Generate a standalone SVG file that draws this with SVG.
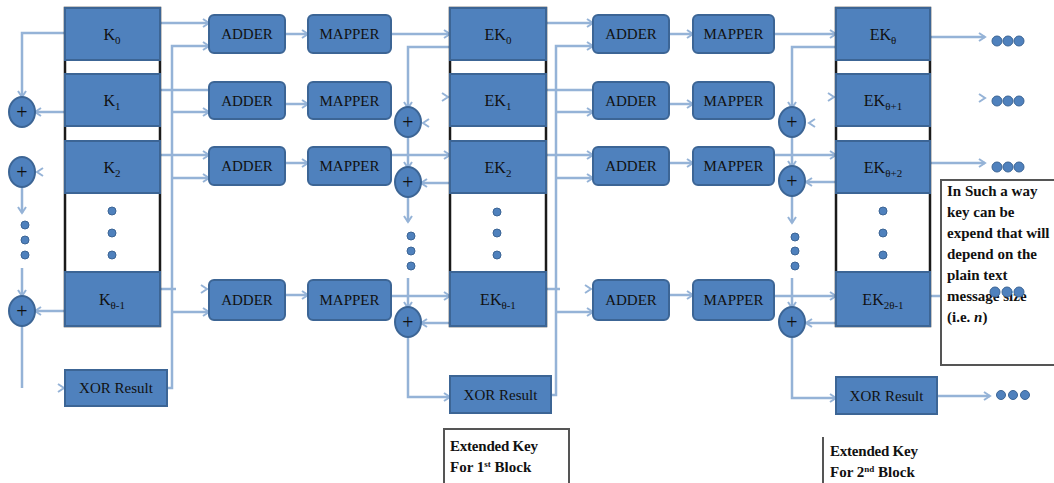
<svg xmlns="http://www.w3.org/2000/svg" width="1054" height="483" viewBox="0 0 1054 483">
<defs>
<marker id="ar" markerUnits="userSpaceOnUse" markerWidth="10" markerHeight="10" refX="8" refY="5" orient="auto">
<path d="M2,1 L8,5 L2,9" fill="none" stroke="#95b3d7" stroke-width="2"/>
</marker>
<style>
.c{fill:none;stroke:#95b3d7;stroke-width:2.5}
.a{marker-end:url(#ar)}
.ch{fill:none;stroke:#95b3d7;stroke-width:2}
.box{fill:#4f81bd;stroke:#3c6595;stroke-width:2}
.col{fill:#fff;stroke:#1a1a1a;stroke-width:2.5}
.t{font-family:"Liberation Serif","Times New Roman",serif;font-size:15px;fill:#111;text-anchor:middle}
.k{font-family:"Liberation Serif","Times New Roman",serif;font-size:16px;fill:#111;text-anchor:middle}
.pl{font-family:"Liberation Serif","Times New Roman",serif;font-size:20px;fill:#111;text-anchor:middle}
.s{font-size:11px}
.dot{fill:#4f81bd;stroke:#3c6595;stroke-width:1}
.note{font-family:"Liberation Serif","Times New Roman",serif;font-size:15px;font-weight:bold;fill:#111}
.frame{fill:#fff;stroke:#555;stroke-width:2}
</style>
</defs>

<g id="connectors">
<path class="c a" d="M160,23 H209"/>
<path class="c" d="M160,90 H209"/>
<path class="c a" d="M160,155 H209"/>
<path class="c" d="M160,289 H176"/>
<polyline class="ch" points="201,285 207,289 201,293"/>
<path class="c a" d="M167,388 H172 V46 H209"/>
<path class="c a" d="M172,112 H209"/>
<path class="c a" d="M172,178 H209"/>
<path class="c a" d="M172,312 H209"/>
<path class="c a" d="M285,34 H308"/>
<path class="c a" d="M285,104 H308"/>
<path class="c a" d="M285,163 H308"/>
<path class="c a" d="M285,295 H308"/>
<path class="c a" d="M65,33 H22 V97"/>
<path class="c a" d="M65,112 H35"/>
<polyline class="ch" points="43,168 37,172 43,176"/>
<path class="c a" d="M22,187 V213"/>
<path class="c a" d="M22,268 V296"/>
<path class="c a" d="M65,311 H35"/>
<path class="c" d="M22,326 V388"/>
<polyline class="ch" points="58,384 64,388 58,392"/>
<path class="c a" d="M391,34 H450"/>
<polyline class="ch" points="442,93 448,97 442,101"/>
<path class="c a" d="M391,155 H450"/>
<path class="c a" d="M391,296 H450"/>
<path class="c a" d="M450,47 H408 V108"/>
<polyline class="ch" points="429,119 423,123 429,127"/>
<path class="c a" d="M408,137 V168"/>
<path class="c a" d="M450,183 H421"/>
<path class="c a" d="M408,197 V222"/>
<path class="c a" d="M408,278 V308"/>
<path class="c a" d="M450,323 H421"/>
<path class="c a" d="M408,337 V397 H450"/>
<path class="c a" d="M546,23 H593"/>
<path class="c" d="M546,90 H593"/>
<path class="c a" d="M546,155 H593"/>
<path class="c" d="M546,289 H560"/>
<polyline class="ch" points="585,285 591,289 585,293"/>
<path class="c a" d="M551,395 H556 V46 H593"/>
<path class="c a" d="M556,112 H593"/>
<path class="c a" d="M556,178 H593"/>
<path class="c a" d="M556,312 H593"/>
<path class="c a" d="M669,34 H693"/>
<path class="c a" d="M669,104 H693"/>
<path class="c a" d="M669,163 H693"/>
<path class="c a" d="M669,295 H693"/>
<path class="c a" d="M774,34 H836"/>
<polyline class="ch" points="828,93 834,97 828,101"/>
<path class="c a" d="M774,155 H836"/>
<path class="c a" d="M774,296 H836"/>
<path class="c a" d="M836,47 H792 V108"/>
<polyline class="ch" points="815,119 809,123 815,127"/>
<path class="c a" d="M792,137 V167"/>
<path class="c a" d="M836,182 H806"/>
<path class="c a" d="M792,196 V223"/>
<path class="c a" d="M792,278 V308"/>
<path class="c a" d="M836,323 H806"/>
<path class="c a" d="M792,338 V398 H836"/>
<path class="c a" d="M930,37 H985"/>
<polyline class="ch" points="979,94 985,98 979,102"/>
<path class="c a" d="M930,163 H985"/>
<path class="c a" d="M930,296 H985"/>
<path class="c a" d="M937,396 H990"/>
</g>

<g id="text-note">
<rect class="frame" x="941" y="180" width="120" height="185"/>
<text class="note" x="947" y="196">In Such a way</text>
<text class="note" x="947" y="217">key can be</text>
<text class="note" x="947" y="238">expend that will</text>
<text class="note" x="947" y="259">depend on the</text>
<text class="note" x="947" y="280">plain text</text>
<text class="note" x="947" y="301">message size</text>
<text class="note" x="947" y="322">(i.e. <tspan font-style="italic">n</tspan>)</text>
</g>

<g id="out-dots">
<circle class="dot" cx="997" cy="41" r="5"/><circle class="dot" cx="1008" cy="41" r="5"/><circle class="dot" cx="1019" cy="41" r="5"/>
<circle class="dot" cx="997" cy="101" r="5"/><circle class="dot" cx="1008" cy="101" r="5"/><circle class="dot" cx="1019" cy="101" r="5"/>
<circle class="dot" cx="997" cy="167" r="5"/><circle class="dot" cx="1008" cy="167" r="5"/><circle class="dot" cx="1019" cy="167" r="5"/>
<circle class="dot" cx="995" cy="292" r="5"/><circle class="dot" cx="1007" cy="292" r="5"/><circle class="dot" cx="1019" cy="292" r="5"/>
<circle class="dot" cx="1001" cy="395" r="4.5"/><circle class="dot" cx="1013" cy="395" r="4.5"/><circle class="dot" cx="1025" cy="395" r="4.5"/>
</g>

<g id="key-column-1">
<rect class="col" x="65" y="8" width="95" height="318"/>
<rect class="box" x="65" y="8" width="95" height="52"/>
<text class="k" x="112" y="40">K<tspan class="s" dy="4">0</tspan></text>
<rect class="box" x="65" y="74" width="95" height="52"/>
<text class="k" x="112" y="106">K<tspan class="s" dy="4">1</tspan></text>
<rect class="box" x="65" y="141" width="95" height="52"/>
<text class="k" x="112" y="173">K<tspan class="s" dy="4">2</tspan></text>
<circle class="dot" cx="112" cy="211" r="4"/><circle class="dot" cx="112" cy="233" r="4"/><circle class="dot" cx="112" cy="255" r="4"/>
<rect class="box" x="65" y="272" width="95" height="54"/>
<text class="k" x="112" y="305">K<tspan class="s" dy="4">θ-1</tspan></text>
</g>

<g id="xor-circles-1">
<ellipse class="box" cx="22" cy="112" rx="13" ry="15"/><text class="pl" x="22" y="119">+</text>
<ellipse class="box" cx="22" cy="172" rx="13" ry="15"/><text class="pl" x="22" y="179">+</text>
<circle class="dot" cx="25" cy="225" r="4"/><circle class="dot" cx="25" cy="240" r="4"/><circle class="dot" cx="25" cy="255" r="4"/>
<ellipse class="box" cx="22" cy="311" rx="13" ry="15"/><text class="pl" x="22" y="318">+</text>
</g>

<g id="xor-result-1">
<rect class="box" x="65" y="370" width="102" height="36"/>
<text class="t" x="116" y="393">XOR Result</text>
</g>

<g id="adders-1">
<rect class="box" x="209" y="15" width="76" height="38" rx="5"/><text class="t" x="247" y="39">ADDER</text>
<rect class="box" x="209" y="82" width="76" height="37" rx="5"/><text class="t" x="247" y="106">ADDER</text>
<rect class="box" x="209" y="147" width="76" height="38" rx="5"/><text class="t" x="247" y="171">ADDER</text>
<rect class="box" x="209" y="280" width="76" height="40" rx="5"/><text class="t" x="247" y="305">ADDER</text>
</g>

<g id="mappers-1">
<rect class="box" x="308" y="15" width="83" height="38" rx="5"/><text class="t" x="349.5" y="39">MAPPER</text>
<rect class="box" x="308" y="82" width="83" height="37" rx="5"/><text class="t" x="349.5" y="106">MAPPER</text>
<rect class="box" x="308" y="147" width="83" height="38" rx="5"/><text class="t" x="349.5" y="171">MAPPER</text>
<rect class="box" x="308" y="280" width="83" height="40" rx="5"/><text class="t" x="349.5" y="305">MAPPER</text>
</g>

<g id="key-column-2">
<rect class="col" x="450" y="8" width="96" height="318"/>
<rect class="box" x="450" y="8" width="96" height="52"/>
<text class="k" x="498" y="40">EK<tspan class="s" dy="4">0</tspan></text>
<rect class="box" x="450" y="74" width="96" height="52"/>
<text class="k" x="498" y="106">EK<tspan class="s" dy="4">1</tspan></text>
<rect class="box" x="450" y="141" width="96" height="52"/>
<text class="k" x="498" y="173">EK<tspan class="s" dy="4">2</tspan></text>
<circle class="dot" cx="497" cy="212" r="4"/><circle class="dot" cx="497" cy="233" r="4"/><circle class="dot" cx="497" cy="255" r="4"/>
<rect class="box" x="450" y="272" width="96" height="54"/>
<text class="k" x="498" y="305">EK<tspan class="s" dy="4">θ-1</tspan></text>
</g>

<g id="xor-circles-2">
<ellipse class="box" cx="408" cy="122" rx="13" ry="15"/><text class="pl" x="408" y="129">+</text>
<ellipse class="box" cx="408" cy="182" rx="13" ry="15"/><text class="pl" x="408" y="189">+</text>
<circle class="dot" cx="411" cy="236" r="4"/><circle class="dot" cx="411" cy="251" r="4"/><circle class="dot" cx="411" cy="266" r="4"/>
<ellipse class="box" cx="408" cy="322" rx="13" ry="15"/><text class="pl" x="408" y="329">+</text>
</g>

<g id="xor-result-2">
<rect class="box" x="450" y="376" width="101" height="37"/>
<text class="t" x="500.5" y="400">XOR Result</text>
</g>

<g id="adders-2">
<rect class="box" x="593" y="15" width="76" height="38" rx="5"/><text class="t" x="631" y="39">ADDER</text>
<rect class="box" x="593" y="82" width="76" height="37" rx="5"/><text class="t" x="631" y="106">ADDER</text>
<rect class="box" x="593" y="147" width="76" height="38" rx="5"/><text class="t" x="631" y="171">ADDER</text>
<rect class="box" x="593" y="280" width="76" height="40" rx="5"/><text class="t" x="631" y="305">ADDER</text>
</g>

<g id="mappers-2">
<rect class="box" x="693" y="15" width="81" height="38" rx="5"/><text class="t" x="733.5" y="39">MAPPER</text>
<rect class="box" x="693" y="82" width="81" height="37" rx="5"/><text class="t" x="733.5" y="106">MAPPER</text>
<rect class="box" x="693" y="147" width="81" height="38" rx="5"/><text class="t" x="733.5" y="171">MAPPER</text>
<rect class="box" x="693" y="280" width="81" height="40" rx="5"/><text class="t" x="733.5" y="305">MAPPER</text>
</g>

<g id="key-column-3">
<rect class="col" x="836" y="8" width="94" height="318"/>
<rect class="box" x="836" y="8" width="94" height="52"/>
<text class="k" x="883" y="40">EK<tspan class="s" dy="4">θ</tspan></text>
<rect class="box" x="836" y="74" width="94" height="52"/>
<text class="k" x="883" y="106">EK<tspan class="s" dy="4">θ+1</tspan></text>
<rect class="box" x="836" y="141" width="94" height="52"/>
<text class="k" x="883" y="173">EK<tspan class="s" dy="4">θ+2</tspan></text>
<circle class="dot" cx="883" cy="211" r="4"/><circle class="dot" cx="883" cy="233" r="4"/><circle class="dot" cx="883" cy="255" r="4"/>
<rect class="box" x="836" y="272" width="94" height="54"/>
<text class="k" x="883" y="305">EK<tspan class="s" dy="4">2θ-1</tspan></text>
</g>

<g id="xor-circles-3">
<ellipse class="box" cx="792" cy="122" rx="13" ry="15"/><text class="pl" x="792" y="129">+</text>
<ellipse class="box" cx="792" cy="181" rx="13" ry="15"/><text class="pl" x="792" y="188">+</text>
<circle class="dot" cx="795" cy="237" r="4"/><circle class="dot" cx="795" cy="251" r="4"/><circle class="dot" cx="795" cy="266" r="4"/>
<ellipse class="box" cx="792" cy="322" rx="13" ry="15"/><text class="pl" x="792" y="329">+</text>
</g>

<g id="xor-result-3">
<rect class="box" x="836" y="377" width="101" height="37"/>
<text class="t" x="886.5" y="401">XOR Result</text>
</g>

<g id="label-block-1">
<rect class="frame" x="444" y="429" width="125" height="70"/>
<text class="note" x="450" y="451" textLength="88">Extended Key</text>
<text class="note" x="450" y="472">For 1<tspan font-size="9" dy="-5">st</tspan><tspan dy="5"> Block</tspan></text>
</g>

<g id="label-block-2">
<path d="M823,437 V490" fill="none" stroke="#555" stroke-width="2"/>
<text class="note" x="830" y="456" textLength="88">Extended Key</text>
<text class="note" x="830" y="477">For 2<tspan font-size="9" dy="-5">nd</tspan><tspan dy="5"> Block</tspan></text>
</g>
</svg>
